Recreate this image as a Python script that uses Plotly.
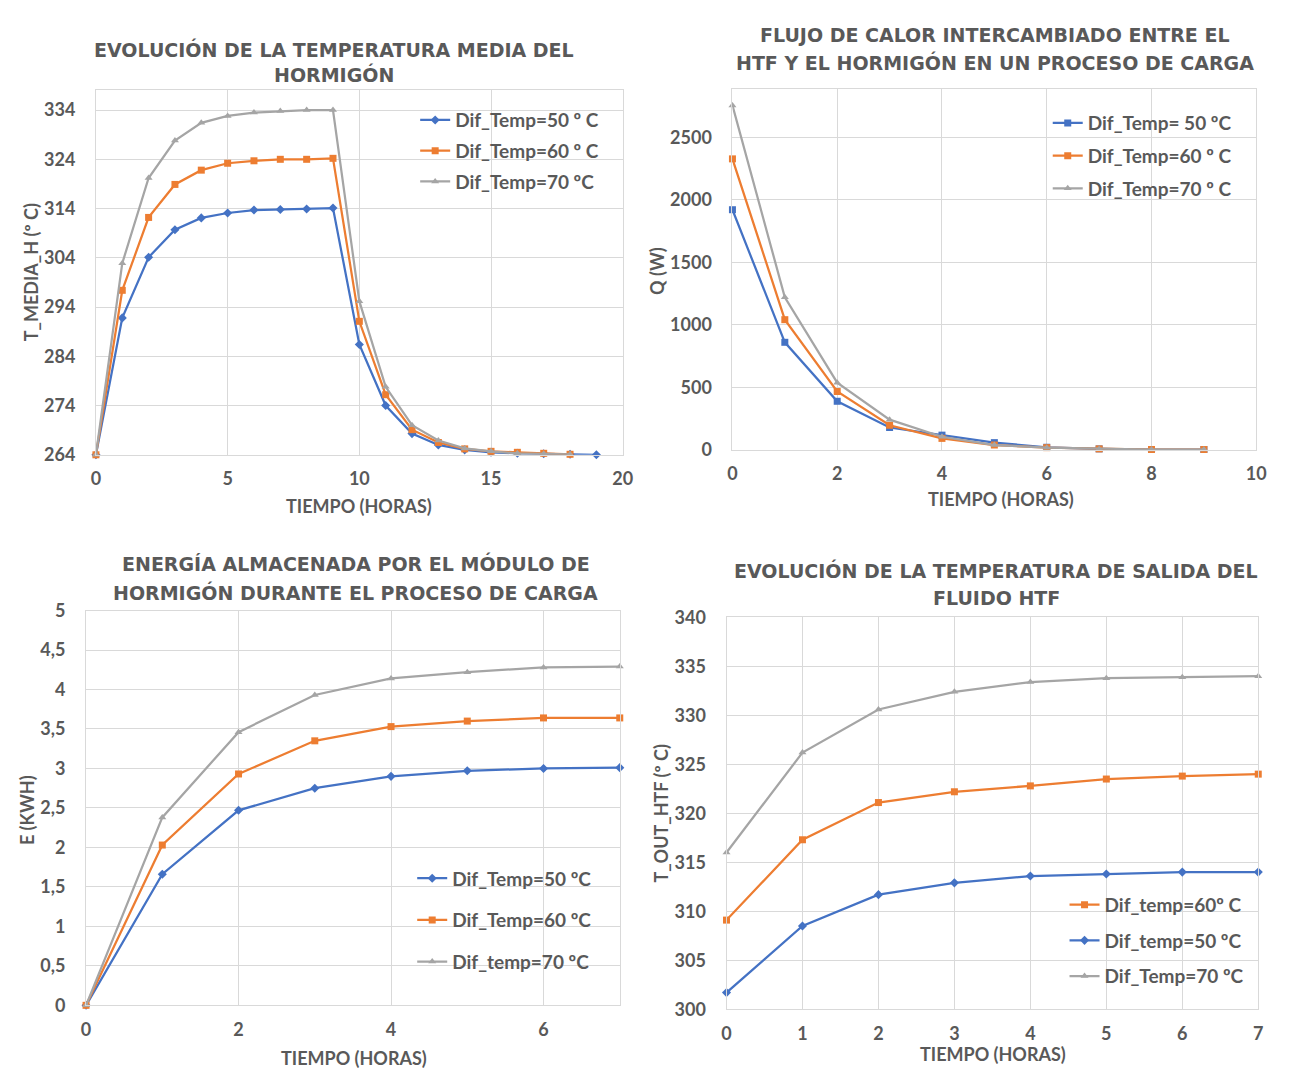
import plotly.graph_objects as go

W, H = 1290, 1079
BLUE = "#4472C4"
ORANGE = "#ED7D31"
GRAY = "#A5A5A5"
TEXT = "#595959"
GRID = "#D9D9D9"

# ---- Evolución de la temperatura media del hormigón (ºC) ----
media_t50 = list(range(20))
media_t60 = list(range(19))
media_t70 = list(range(19))
media_50 = [264.0, 291.8, 304.1, 309.7, 312.1, 313.1, 313.7, 313.8, 313.9, 314.1,
            286.4, 274.0, 268.3, 266.0, 265.0, 264.5, 264.3, 264.2, 264.1, 264.0]
media_60 = [264.0, 297.4, 312.2, 318.9, 321.8, 323.2, 323.7, 324.0, 324.0, 324.2,
            291.1, 276.2, 269.1, 266.5, 265.2, 264.7, 264.5, 264.3, 264.1]
media_70 = [264.0, 302.9, 320.2, 327.8, 331.4, 332.8, 333.5, 333.8, 334.0, 334.0,
            295.2, 277.8, 270.0, 266.9, 265.3, 264.7, 264.3, 264.2, 264.1]

# ---- Flujo de calor HTF-hormigón (W) ----
flujo_t = list(range(10))
flujo_50 = [1922, 861, 389, 179, 118, 58, 21, 8, 3, 3]
flujo_60 = [2329, 1042, 467, 197, 92, 39, 18, 8, 3, 3]
flujo_70 = [2757, 1221, 538, 242, 105, 39, 18, 8, 3, 3]

# ---- Energía almacenada (kWh) ----
energia_t = list(range(8))
energia_50 = [0.0, 1.66, 2.47, 2.75, 2.90, 2.97, 3.00, 3.01]
energia_60 = [0.0, 2.03, 2.93, 3.35, 3.53, 3.60, 3.64, 3.64]
energia_70 = [0.0, 2.38, 3.46, 3.93, 4.14, 4.22, 4.28, 4.29]

# ---- Temperatura de salida del HTF (ºC) ----
salida_t = list(range(8))
salida_60 = [309.1, 317.3, 321.1, 322.2, 322.8, 323.5, 323.8, 324.0]
salida_50 = [301.7, 308.5, 311.7, 312.9, 313.6, 313.8, 314.0, 314.0]
salida_70 = [316.0, 326.2, 330.6, 332.4, 333.4, 333.8, 333.9, 334.0]

# plot-area boxes in pixels: (left, right, top, bottom)
BOX = {
    1: (92, 625, 80, 452),
    2: (736, 1266, 79, 447),
    3: (82, 622, 611, 1014),
    4: (730, 1268, 618, 1018),
}


def px(x):
    return x / W


def py(y):
    return 1 - y / H


fig = go.Figure()


def add_series(n, x, y, name, color, symbol, size, group):
    suffix = "" if n == 1 else str(n)
    fig.add_trace(go.Scatter(
        x=x, y=y, name=name, mode="lines+markers",
        line=dict(color=color, width=2.25),
        marker=dict(color=color, symbol=symbol, size=size),
        xaxis="x" + suffix, yaxis="y" + suffix,
        legend="legend" + suffix, legendgroup=f"g{n}{group}",
        cliponaxis=False,
    ))


add_series(1, media_t50, media_50, "Dif_Temp=50 º C", BLUE, "diamond", 7, 1)
add_series(1, media_t60, media_60, "Dif_Temp=60 º C", ORANGE, "square", 7, 2)
add_series(1, media_t70, media_70, "Dif_Temp=70 ºC", GRAY, "triangle-up", 7, 3)

add_series(2, flujo_t, flujo_50, "Dif_Temp= 50 ºC", BLUE, "square", 7, 1)
add_series(2, flujo_t, flujo_60, "Dif_Temp=60 º C", ORANGE, "square", 7, 2)
add_series(2, flujo_t, flujo_70, "Dif_Temp=70 º C", GRAY, "triangle-up", 7, 3)

add_series(3, energia_t, energia_50, "Dif_Temp=50 ºC", BLUE, "diamond", 7, 1)
add_series(3, energia_t, energia_60, "Dif_Temp=60 ºC", ORANGE, "square", 7, 2)
add_series(3, energia_t, energia_70, "Dif_temp=70 ºC", GRAY, "triangle-up", 7, 3)

add_series(4, salida_t, salida_60, "Dif_temp=60º C", ORANGE, "square", 7, 1)
add_series(4, salida_t, salida_50, "Dif_temp=50 ºC", BLUE, "diamond", 7, 2)
add_series(4, salida_t, salida_70, "Dif_Temp=70 ºC", GRAY, "triangle-up", 7, 3)

TICKFONT = dict(family="Lato", size=18, color=TEXT, weight="bold")


def axis_pair(n, xrange, xdtick, yrange, ytickvals):
    l, r, t, b = BOX[n]
    common = dict(showgrid=True, gridcolor=GRID, gridwidth=1, showline=True,
                  linecolor=GRID, linewidth=1, mirror=True, zeroline=False,
                  ticks="outside", tickcolor="rgba(0,0,0,0)", tickfont=TICKFONT,
                  fixedrange=True)
    suffix = "" if n == 1 else str(n)
    xa = dict(common, domain=[px(l), px(r)], range=xrange, dtick=xdtick, tick0=0,
              ticklen=8, anchor="y" + suffix)
    ya = dict(common, domain=[py(b), py(t)], range=yrange, tickmode="array",
              tickvals=ytickvals, ticklen=16, anchor="x" + suffix)
    return xa, ya


x1, y1 = axis_pair(1, [0, 20], 5, [264, 338], list(range(264, 335, 10)))
x2, y2 = axis_pair(2, [0, 10], 2, [0, 2885], list(range(0, 2501, 500)))
x3, y3 = axis_pair(3, [0, 7], 2, [0, 5], [0, 0.5, 1, 1.5, 2, 2.5, 3, 3.5, 4, 4.5, 5])
x4, y4 = axis_pair(4, [0, 7], 1, [300, 340], list(range(300, 341, 5)))

LEGFONT = dict(family="Lato", size=19, color=TEXT, weight="bold")


def legend_at(x_text, y_first, gap):
    return dict(x=px(x_text - 38), y=py(y_first - 22), xanchor="left", yanchor="top",
                bgcolor="rgba(0,0,0,0)", font=LEGFONT, tracegroupgap=gap,
                itemclick=False, itemdoubleclick=False)


annotations = []


def note(text, x, y, size=19, angle=0, family="DejaVu Sans"):
    annotations.append(dict(
        text=text, x=px(x), y=py(y), xref="paper", yref="paper",
        xanchor="center", yanchor="middle", showarrow=False, textangle=angle,
        font=dict(family=family, size=size, color=TEXT, weight="bold"),
    ))


# chart titles
note("EVOLUCIÓN DE LA TEMPERATURA MEDIA DEL", 333, 38)
note("HORMIGÓN", 333, 64)
note("FLUJO DE CALOR INTERCAMBIADO ENTRE EL", 1002, 23)
note("HTF Y EL HORMIGÓN EN UN PROCESO DE CARGA", 1002, 52)
note("ENERGÍA ALMACENADA POR EL MÓDULO DE", 355, 563)
note("HORMIGÓN DURANTE EL PROCESO DE CARGA", 355, 593)
note("EVOLUCIÓN DE LA TEMPERATURA DE SALIDA DEL", 1003, 570)
note("FLUIDO HTF", 1003, 598)

# axis titles
AXX = dict(size=18, family="Lato")
AXY = dict(size=18, family="Lato")
note("TIEMPO (HORAS)", 358, 504, **AXX)
note("TIEMPO (HORAS)", 1008, 497, **AXX)
note("TIEMPO (HORAS)", 353, 1068, **AXX)
note("TIEMPO (HORAS)", 1000, 1064, **AXX)
note("T_MEDIA_H (º C)", 26, 266, angle=-90, **AXY)
note("Q (W)", 659, 264, angle=-90, **AXY)
note("E (KWH)", 23, 815, angle=-90, **AXY)
note("T_OUT_HTF (º C)", 664, 818, angle=-90, **AXY)

fig.update_layout(
    width=W, height=H, autosize=False,
    margin=dict(l=0, r=0, t=0, b=0),
    paper_bgcolor="white", plot_bgcolor="white",
    separators=", ",
    xaxis=x1, yaxis=y1, xaxis2=x2, yaxis2=y2,
    xaxis3=x3, yaxis3=y3, xaxis4=x4, yaxis4=y4,
    legend=legend_at(453, 113, 3),
    legend2=legend_at(1093, 116, 5),
    legend3=legend_at(450, 887, 14),
    legend4=legend_at(1110, 914, 8),
    annotations=annotations,
    showlegend=True,
)

fig.write_html("out.html", config=dict(displayModeBar=False))
